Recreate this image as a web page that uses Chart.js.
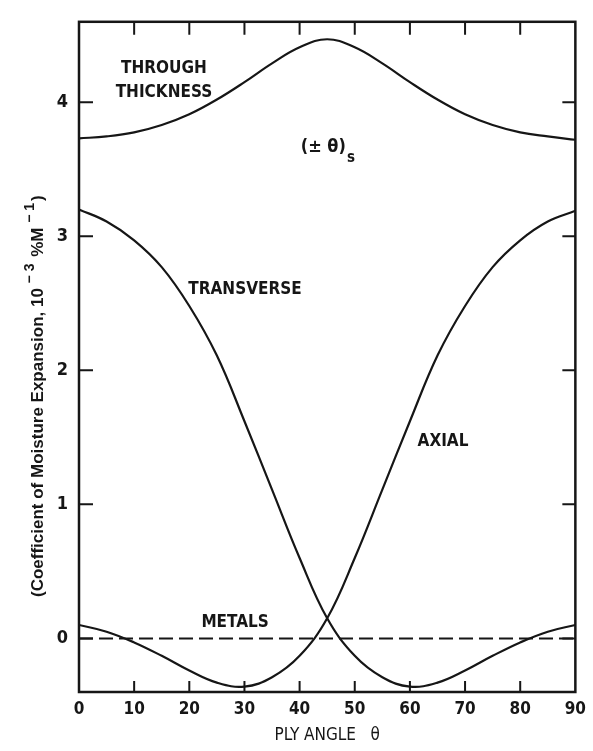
<!DOCTYPE html>
<html>
<head>
<meta charset="utf-8">
<script src="https://cdn.jsdelivr.net/npm/chart.js@4/dist/chart.umd.min.js"></script>
<style>
  html, body { margin: 0; padding: 0; background: #fff; }
  #chart { display: block; }
</style>
</head>
<body>
<canvas id="chart" width="593" height="751"></canvas>
<script>
// ply angle (deg)
const angles = [0, 5, 10, 15, 20, 25, 30, 35, 40, 45, 50, 55, 60, 65, 70, 75, 80, 85, 90];

// coefficient of moisture expansion, 10^-3 %M^-1
const throughThickness = [3.73, 3.745, 3.775, 3.83, 3.91, 4.02, 4.15, 4.29, 4.41, 4.47, 4.41, 4.29, 4.15, 4.02, 3.91, 3.83, 3.775, 3.745, 3.72];
const transverse = [3.20, 3.11, 2.97, 2.77, 2.48, 2.11, 1.62, 1.11, 0.60, 0.15, -0.13, -0.29, -0.36, -0.33, -0.24, -0.13, -0.03, 0.05, 0.10];
const axial = [0.10, 0.05, -0.03, -0.13, -0.24, -0.33, -0.36, -0.29, -0.13, 0.15, 0.60, 1.11, 1.62, 2.11, 2.48, 2.77, 2.97, 3.11, 3.19];
const metalsAngles = [0, 90];
const metals = [0, 0];

const xTicks = [0, 10, 20, 30, 40, 50, 60, 70, 80, 90];
const yTicks = [0, 1, 2, 3, 4];

// curve labels, placed in data units
const curveLabels = [
    { text: "THROUGH", x: 15.4, y: 4.25 },
    { text: "THICKNESS", x: 15.4, y: 4.07 },
    { text: "TRANSVERSE", x: 30.1, y: 2.60 },
    { text: "AXIAL", x: 66.0, y: 1.47 },
    { text: "METALS", x: 28.3, y: 0.12 }
];

const INK = "#161616";
const FONT = "'Liberation Sans Narrow', 'DejaVu Sans Condensed', 'Liberation Sans', sans-serif";

const toPoints = (xs, ys) => xs.map((x, i) => ({ x: x, y: ys[i] }));

const curve = (label, xs, ys) => ({
    label: label,
    data: toPoints(xs, ys),
    borderColor: INK,
    borderWidth: 2.2,
    pointRadius: 0,
    tension: 0.4,
    fill: false
});

// frame, inward tick marks, curve labels and the y title with superscripts
const decorations = {
    id: "decorations",
    afterDraw(chart) {
        const ctx = chart.ctx;
        const a = chart.chartArea;
        const xs = chart.scales.x;
        const ys = chart.scales.y;
        ctx.save();
        ctx.strokeStyle = INK;
        ctx.lineWidth = 2.5;
        ctx.strokeRect(a.left, a.top, a.right - a.left, a.bottom - a.top);

        ctx.lineWidth = 2;
        ctx.beginPath();
        xTicks.slice(1, -1).forEach(v => {
            const px = xs.getPixelForValue(v);
            ctx.moveTo(px, a.bottom); ctx.lineTo(px, a.bottom - 11);
            ctx.moveTo(px, a.top); ctx.lineTo(px, a.top + 13);
        });
        yTicks.forEach(v => {
            const py = ys.getPixelForValue(v);
            ctx.moveTo(a.left, py); ctx.lineTo(a.left + 14, py);
            ctx.moveTo(a.right, py); ctx.lineTo(a.right - 13, py);
        });
        ctx.stroke();

        ctx.fillStyle = INK;
        ctx.textAlign = "center";
        ctx.textBaseline = "middle";
        ctx.font = "bold 17px " + FONT;
        curveLabels.forEach(l => {
            ctx.fillText(l.text, xs.getPixelForValue(l.x), ys.getPixelForValue(l.y));
        });

        // (±θ)s layup label
        const lx = xs.getPixelForValue(44.3);
        const ly = ys.getPixelForValue(3.66);
        ctx.font = "bold 18px " + FONT;
        ctx.fillText("(± θ)", lx, ly);
        const w = ctx.measureText("(± θ)").width;
        ctx.font = "bold 15px " + FONT;
        ctx.textAlign = "left";
        ctx.fillText("s", lx + w / 2 + 1, ly + 10);

        // y axis title, read bottom to top
        ctx.translate(43, 597);
        ctx.rotate(-Math.PI / 2);
        ctx.textAlign = "left";
        ctx.textBaseline = "alphabetic";
        const parts = [
            { t: "(Coefficient of Moisture Expansion, 10 ", sup: false },
            { t: "− 3", sup: true },
            { t: " %M ", sup: false },
            { t: "− 1", sup: true },
            { t: ")", sup: false }
        ];
        let cx = 0;
        parts.forEach(p => {
            ctx.font = p.sup ? "bold 14px 'Liberation Sans', sans-serif" : "bold 17px 'Liberation Sans', sans-serif";
            ctx.fillText(p.t, cx, p.sup ? -9 : 0);
            cx += ctx.measureText(p.t).width + (p.sup ? 2 : 0);
        });
        ctx.restore();
    }
};

new Chart(document.getElementById("chart"), {
    type: "line",
    data: {
        datasets: [
            curve("Through thickness", angles, throughThickness),
            curve("Transverse", angles, transverse),
            curve("Axial", angles, axial),
            {
                label: "Metals",
                data: toPoints(metalsAngles, metals),
                borderColor: INK,
                borderWidth: 2,
                borderDash: [14, 6],
                pointRadius: 0,
                fill: false
            }
        ]
    },
    options: {
        responsive: false,
        animation: false,
        layout: { padding: { top: 12, right: 14, left: 0, bottom: 0 } },
        plugins: { legend: { display: false }, tooltip: { enabled: false } },
        scales: {
            x: {
                type: "linear",
                min: 0,
                max: 90,
                afterBuildTicks: s => { s.ticks = xTicks.map(v => ({ value: v })); },
                afterFit: s => { s.height = 59; },
                grid: { display: false, drawTicks: false },
                border: { display: false },
                ticks: { color: INK, padding: 7, font: { family: FONT, size: 17, weight: "bold" } },
                title: {
                    display: true,
                    text: "PLY ANGLE   θ",
                    color: INK,
                    padding: { top: 2, bottom: 5 },
                    font: { family: FONT, size: 17 }
                }
            },
            y: {
                type: "linear",
                min: -0.4,
                max: 4.6,
                afterBuildTicks: s => { s.ticks = yTicks.map(v => ({ value: v })); },
                afterFit: s => { s.width = 79; },
                grid: { display: false, drawTicks: false },
                border: { display: false },
                ticks: { color: INK, padding: 11, font: { family: FONT, size: 18, weight: "bold" } },
                title: { display: false }
            }
        }
    },
    plugins: [decorations]
});
</script>
</body>
</html>
